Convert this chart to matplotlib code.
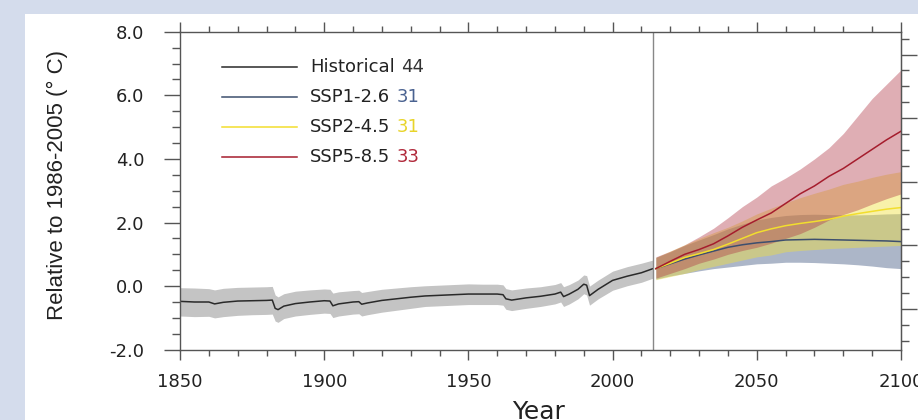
import matplotlib
matplotlib.use('Agg')
import matplotlib.pyplot as plt
from matplotlib.patches import Rectangle
from matplotlib.ticker import MultipleLocator, FormatStrFormatter

plt.rcParams['font.family'] = ['DejaVu Sans']
plt.rcParams['axes.unicode_minus'] = False

# historical ensemble mean and spread (relative to 1986-2005)
hist_years = [1850, 1855, 1860, 1862, 1865, 1870, 1875, 1880, 1882, 1883,
              1884, 1886, 1890, 1895, 1900, 1902, 1903, 1905, 1910, 1912,
              1913, 1915, 1920, 1925, 1930, 1935, 1940, 1945, 1950, 1955,
              1960, 1962, 1963, 1965, 1970, 1975, 1980, 1982, 1983, 1985,
              1988, 1990, 1991, 1992, 1995, 2000, 2005, 2010, 2014]
hist_mean = [-0.48, -0.50, -0.50, -0.56, -0.51, -0.47, -0.46, -0.45, -0.44, -0.70,
             -0.74, -0.63, -0.55, -0.50, -0.46, -0.47, -0.62, -0.56, -0.50, -0.49,
             -0.57, -0.53, -0.45, -0.40, -0.35, -0.31, -0.29, -0.27, -0.25, -0.25,
             -0.25, -0.27, -0.40, -0.44, -0.37, -0.32, -0.25, -0.19, -0.33, -0.25,
             -0.10, 0.06, 0.03, -0.30, -0.10, 0.18, 0.31, 0.42, 0.55]
hist_hi = [-0.05, -0.06, -0.08, -0.12, -0.07, -0.04, -0.03, -0.02, -0.01, -0.28,
           -0.34, -0.24, -0.16, -0.12, -0.09, -0.10, -0.22, -0.18, -0.14, -0.13,
           -0.20, -0.17, -0.10, -0.06, -0.02, 0.01, 0.03, 0.05, 0.07, 0.06,
           0.06, 0.04, -0.08, -0.12, -0.06, -0.02, 0.05, 0.11, -0.02, 0.05,
           0.19, 0.35, 0.33, 0.00, 0.19, 0.47, 0.61, 0.72, 0.82]
hist_lo = [-0.94, -0.96, -0.95, -1.00, -0.96, -0.92, -0.90, -0.89, -0.88, -1.10,
           -1.14, -1.02, -0.94, -0.89, -0.85, -0.86, -0.99, -0.94, -0.88, -0.87,
           -0.94, -0.90, -0.82, -0.76, -0.70, -0.64, -0.62, -0.60, -0.58, -0.58,
           -0.58, -0.60, -0.73, -0.77, -0.70, -0.64, -0.56, -0.50, -0.64, -0.56,
           -0.40, -0.24, -0.28, -0.60, -0.40, -0.13, 0.01, 0.12, 0.25]

# scenario projections
proj_years = [2015, 2020, 2025, 2030, 2035, 2040, 2045, 2050, 2055,
              2060, 2065, 2070, 2075, 2080, 2085, 2090, 2095, 2100]
ssp126_mean = [0.55, 0.70, 0.85, 0.98, 1.10, 1.22, 1.30, 1.36, 1.40,
               1.45, 1.46, 1.47, 1.46, 1.45, 1.44, 1.43, 1.42, 1.40]
ssp126_hi = [0.90, 1.08, 1.28, 1.45, 1.62, 1.80, 1.95, 2.08, 2.16,
             2.22, 2.25, 2.26, 2.25, 2.24, 2.24, 2.25, 2.27, 2.28]
ssp126_lo = [0.22, 0.32, 0.40, 0.48, 0.55, 0.60, 0.65, 0.70, 0.72,
             0.75, 0.75, 0.74, 0.72, 0.70, 0.67, 0.63, 0.58, 0.55]
ssp245_mean = [0.55, 0.72, 0.90, 1.02, 1.15, 1.32, 1.50, 1.68, 1.80,
               1.90, 1.97, 2.03, 2.10, 2.20, 2.28, 2.35, 2.42, 2.47]
ssp245_hi = [0.90, 1.10, 1.30, 1.50, 1.68, 1.85, 2.05, 2.27, 2.45,
             2.62, 2.78, 2.92, 3.05, 3.20, 3.30, 3.42, 3.52, 3.60]
ssp245_lo = [0.20, 0.30, 0.40, 0.52, 0.62, 0.72, 0.82, 0.92, 0.98,
             1.08, 1.12, 1.15, 1.18, 1.20, 1.22, 1.24, 1.26, 1.28]
ssp585_mean = [0.55, 0.78, 1.00, 1.15, 1.33, 1.58, 1.85, 2.08, 2.30,
               2.60, 2.90, 3.15, 3.45, 3.70, 4.00, 4.30, 4.60, 4.87]
ssp585_hi = [0.92, 1.10, 1.30, 1.55, 1.82, 2.15, 2.50, 2.80, 3.15,
             3.40, 3.68, 4.00, 4.35, 4.80, 5.35, 5.90, 6.35, 6.80]
ssp585_lo = [0.25, 0.40, 0.55, 0.72, 0.85, 1.00, 1.12, 1.22, 1.35,
             1.50, 1.65, 1.85, 2.08, 2.25, 2.40, 2.58, 2.75, 2.90]

names = ['Historical', 'SSP1-2.6', 'SSP2-4.5', 'SSP5-8.5']
counts = [44, 31, 31, 33]
line_colors = ['#2a2a2a', '#3d4f6e', '#f2de2e', '#a51d2d']
count_colors = ['#333333', '#4a6290', '#e8d42a', '#b0283a']

OFFSET = 0.72  # right axis: shift to pre-industrial baseline

fig = plt.figure(figsize=(9.18, 4.2), dpi=100, facecolor='#d4dcec')
fig.add_artist(Rectangle((25 / 918, 0), 1, 1 - 14 / 420, transform=fig.transFigure,
                         facecolor='white', edgecolor='none', zorder=-10))
ax = fig.add_axes([180 / 918, 1 - 349.7 / 420, 721 / 918, 318 / 420])
ax.set_facecolor('white')

# bands
ax.fill_between(hist_years, hist_lo, hist_hi, color='#c4c4c4', lw=0)
ax.fill_between(proj_years, ssp126_lo, ssp126_hi, color='#5a6e92', alpha=0.5, lw=0)
ax.fill_between(proj_years, ssp245_lo, ssp245_hi, color='#f0e040', alpha=0.45, lw=0)
ax.fill_between(proj_years, ssp585_lo, ssp585_hi, color='#b03545', alpha=0.4, lw=0)

# mean lines
ax.plot(hist_years, hist_mean, color=line_colors[0], lw=1.1)
ax.plot(proj_years, ssp126_mean, color=line_colors[1], lw=1.1)
ax.plot(proj_years, ssp245_mean, color=line_colors[2], lw=1.1)
ax.plot(proj_years, ssp585_mean, color=line_colors[3], lw=1.1)

ax.axvline(2014, color='#888888', lw=1.0)

ax.set_xlim(1850, 2100)
ax.set_ylim(-2, 8)
ax.xaxis.set_major_locator(MultipleLocator(50))
ax.xaxis.set_minor_locator(MultipleLocator(10))
ax.yaxis.set_major_locator(MultipleLocator(2))
ax.yaxis.set_minor_locator(MultipleLocator(0.5))
ax.yaxis.set_major_formatter(FormatStrFormatter('%.1f'))

for s in ax.spines.values():
    s.set_color('#555555')
    s.set_linewidth(1.0)
ax.tick_params(axis='x', which='major', direction='out', length=7, width=1,
               color='#555555', top=True, pad=10, labelsize=13, labelcolor='#222222')
ax.tick_params(axis='x', which='minor', direction='out', length=4, width=1,
               color='#555555', top=True)
ax.tick_params(axis='y', which='major', direction='out', length=11.5, width=1,
               color='#555555', right=False, pad=14, labelsize=13, labelcolor='#222222')
ax.tick_params(axis='y', which='minor', direction='out', length=6, width=1,
               color='#555555', right=False)

sec = ax.secondary_yaxis('right', functions=(lambda y: y + OFFSET, lambda y: y - OFFSET))
sec.yaxis.set_major_locator(MultipleLocator(2))
sec.yaxis.set_minor_locator(MultipleLocator(0.5))
sec.spines['right'].set_color('#555555')
sec.tick_params(which='major', direction='out', length=11.5, width=1, color='#555555',
                labelright=False)
sec.tick_params(which='minor', direction='out', length=6, width=1, color='#555555')

# legend
leg_y = [0.890, 0.796, 0.701, 0.607]
for name, n, lc, cc, y in zip(names, counts, line_colors, count_colors, leg_y):
    ax.plot([0.058, 0.162], [y, y], color=lc, lw=1.1, transform=ax.transAxes)
    t = ax.text(0.180, y, name, transform=ax.transAxes, fontsize=13,
                color='#222222', va='center', ha='left')
    ax.annotate(str(n), xy=(1, 0.5), xycoords=t, xytext=(5, 0),
                textcoords='offset points', fontsize=13, color=cc,
                va='center', ha='left')

fig.text(57 / 918, 1 - 185 / 420, 'Relative to 1986-2005 (° C)', rotation=90,
         ha='center', va='center', fontsize=16, family=['Liberation Sans', 'DejaVu Sans'],
         color='#222222')
fig.text(539 / 918, 1 - 419 / 420, 'Year', ha='center', va='baseline',
         fontsize=18, color='#222222')

fig.savefig('out.png', dpi=100, facecolor=fig.get_facecolor())
